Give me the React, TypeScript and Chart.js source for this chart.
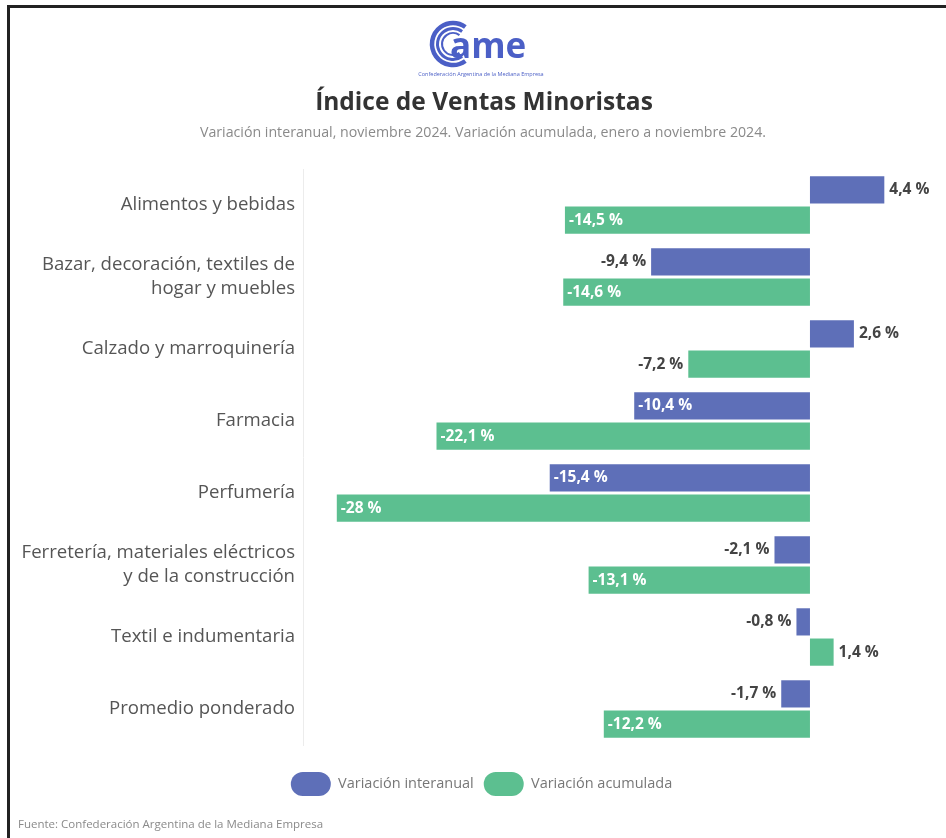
import React, { useEffect, useRef } from "react";
import { Chart, registerables } from "chart.js";

Chart.register(...registerables);

const categories: (string | string[])[] = [
  "Alimentos y bebidas",
  ["Bazar, decoración, textiles de", "hogar y muebles"],
  "Calzado y marroquinería",
  "Farmacia",
  "Perfumería",
  ["Ferretería, materiales eléctricos", "y de la construcción"],
  "Textil e indumentaria",
  "Promedio ponderado",
];
const interanual = [4.4, -9.4, 2.6, -10.4, -15.4, -2.1, -0.8, -1.7];
const acumulada = [-14.5, -14.6, -7.2, -22.1, -28, -13.1, 1.4, -12.2];
const seriesNames = ["Variación interanual", "Variación acumulada"];
const titleText = "Índice de Ventas Minoristas";
const subtitleText =
  "Variación interanual, noviembre 2024. Variación acumulada, enero a noviembre 2024.";
const sourceText = "Fuente: Confederación Argentina de la Mediana Empresa";
const logoSmallText = "Confederación Argentina de la Mediana Empresa";

const BLUE = "#5E6FB8";
const GREEN = "#5CBF90";
const LOGO = "#4B5FC6";
const FONT = "'Open Sans', sans-serif";

const fmt = (v: number) => String(v).replace(".", ",") + " %";

const valueLabels = {
  id: "valueLabels",
  afterDatasetsDraw(chart: any) {
    const ctx = chart.ctx;
    ctx.save();
    ctx.font = `bold 15.5px ${FONT}`;
    ctx.textBaseline = "middle";
    chart.data.datasets.forEach((ds: any, di: number) => {
      const meta = chart.getDatasetMeta(di);
      meta.data.forEach((el: any, i: number) => {
        const v = ds.data[i] as number;
        const { x, y } = el.getProps(["x", "y"], true);
        const txt = fmt(v);
        if (Math.abs(v) >= 10) {
          ctx.fillStyle = "#ffffff";
          ctx.textAlign = "left";
          ctx.fillText(txt, x + 4, y);
        } else if (v >= 0) {
          ctx.fillStyle = "#444444";
          ctx.textAlign = "left";
          ctx.fillText(txt, x + 5, y);
        } else {
          ctx.fillStyle = "#444444";
          ctx.textAlign = "right";
          ctx.fillText(txt, x - 5, y);
        }
      });
    });
    ctx.restore();
  },
};

const decorations = {
  id: "decorations",
  afterDraw(chart: any) {
    const ctx = chart.ctx;
    const W = chart.width;
    const H = chart.height;
    ctx.save();
    // frame
    ctx.fillStyle = "#222222";
    ctx.fillRect(7, 5, W - 7, 3);
    ctx.fillRect(7, 5, 3, H - 5);

    // logo
    const cx = 453;
    const cy = 44;
    ctx.strokeStyle = LOGO;
    ctx.lineCap = "butt";
    [
      [21, 4.5],
      [15.5, 3],
      [11, 2],
    ].forEach(([r, lw]) => {
      ctx.lineWidth = lw;
      ctx.beginPath();
      ctx.arc(cx, cy, r, 0.3 * Math.PI, 1.7 * Math.PI);
      ctx.stroke();
    });
    ctx.fillStyle = LOGO;
    ctx.font = `bold 35px ${FONT}`;
    ctx.textAlign = "left";
    ctx.textBaseline = "alphabetic";
    ctx.fillText("ame", 450, 58);
    ctx.font = `5.5px ${FONT}`;
    ctx.textAlign = "center";
    ctx.textBaseline = "middle";
    ctx.fillText(logoSmallText, 481, 74);

    // title
    ctx.fillStyle = "#333333";
    ctx.font = `bold 24.5px ${FONT}`;
    ctx.textAlign = "center";
    ctx.textBaseline = "middle";
    ctx.fillText(titleText, 484, 103);
    ctx.fillStyle = "#8a8a8a";
    ctx.font = `14.2px ${FONT}`;
    ctx.fillText(subtitleText, 483, 133);

    // source
    ctx.fillStyle = "#8a8a8a";
    ctx.font = `11.5px ${FONT}`;
    ctx.textAlign = "left";
    ctx.fillText(sourceText, 18, 825);
    ctx.restore();
  },
};

export default function App() {
  const ref = useRef<HTMLCanvasElement>(null);
  useEffect(() => {
    if (!ref.current) return;
    const chart = new Chart(ref.current, {
      type: "bar",
      data: {
        labels: categories as any,
        datasets: [
          {
            label: seriesNames[0],
            data: interanual,
            backgroundColor: BLUE,
            borderWidth: 0,
            categoryPercentage: 0.84,
            barPercentage: 0.9,
          },
          {
            label: seriesNames[1],
            data: acumulada,
            backgroundColor: GREEN,
            borderWidth: 0,
            categoryPercentage: 0.84,
            barPercentage: 0.9,
          },
        ],
      },
      options: {
        indexAxis: "y",
        responsive: false,
        animation: false,
        layout: { padding: { top: 169, left: 17, right: 0, bottom: 32 } },
        scales: {
          x: {
            min: -30,
            max: 8.05,
            display: true,
            ticks: { display: false },
            grid: { display: false, drawTicks: false },
            border: { display: false },
            afterFit: (s: any) => {
              s.height = 17;
            },
          },
          y: {
            grid: { display: false, drawTicks: false },
            border: { display: true, color: "#ececec" },
            ticks: {
              padding: 8,
              color: "#555555",
              font: { family: FONT, size: 18.6, lineHeight: 1.3 },
            },
            afterFit: (s: any) => {
              s.width = 286;
            },
          },
        },
        plugins: {
          legend: {
            position: "bottom",
            labels: {
              boxWidth: 40,
              boxHeight: 24,
              useBorderRadius: true,
              borderRadius: 12,
              padding: 10,
              color: "#777777",
              font: { family: FONT, size: 14.5 },
            },
          },
          title: { display: false },
          tooltip: { enabled: false },
        },
      },
      plugins: [valueLabels, decorations],
    });
    return () => chart.destroy();
  }, []);
  return (
    <div style={{ position: "absolute", left: 0, top: 0, width: 946, height: 838, background: "#fff" }}>
      <canvas ref={ref} width={946} height={838} style={{ width: 946, height: 838, display: "block" }} />
    </div>
  );
}
